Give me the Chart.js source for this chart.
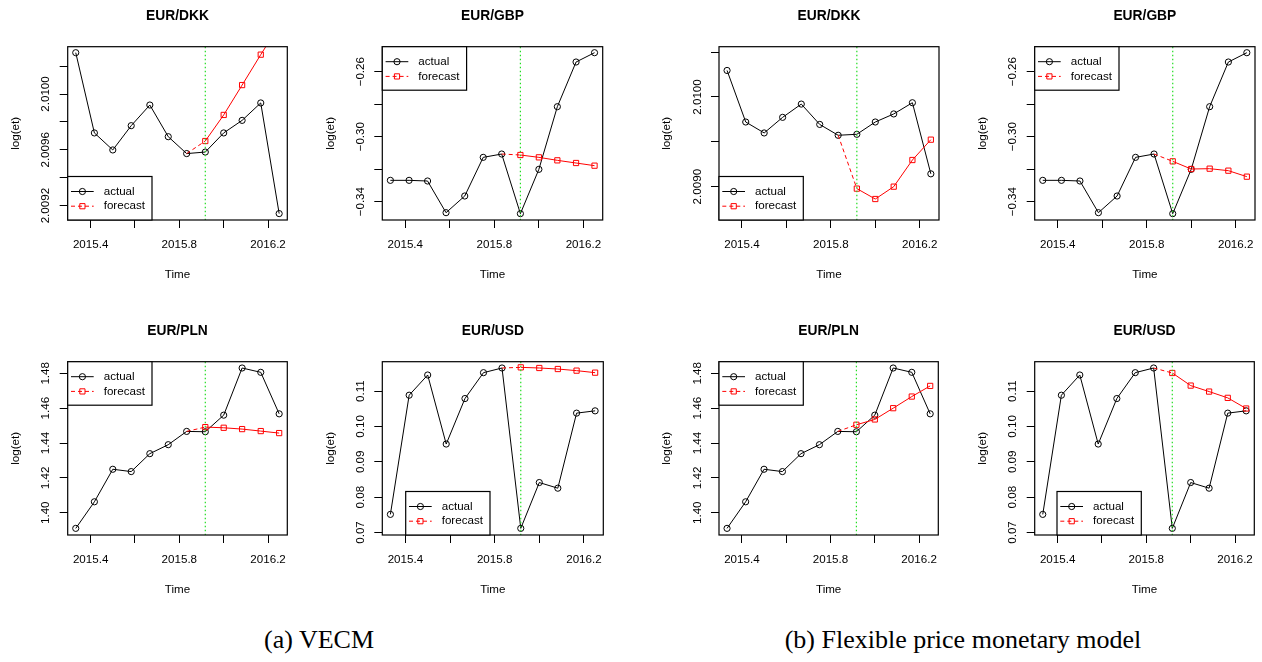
<!DOCTYPE html>
<html>
<head>
<meta charset="utf-8">
<script src="https://cdn.jsdelivr.net/npm/chart.js@4.4.0/dist/chart.umd.min.js"></script>
<style>
body { margin: 0; background: #fff; width: 1262px; height: 662px; position: relative; overflow: hidden; }
.panel { position: absolute; width: 310px; height: 300px; }
.caption { position: absolute; top: 625px; font-family: "Liberation Serif", "Times New Roman", serif; font-size: 26px; color: #000; transform: translateX(-50%); white-space: nowrap; }
</style>
</head>
<body>
<div class="panel" style="left:0;top:0"><canvas id="p1" width="310" height="300"></canvas></div>
<div class="panel" style="left:310px;top:0"><canvas id="p2" width="310" height="300"></canvas></div>
<div class="panel" style="left:640px;top:0"><canvas id="p3" width="310" height="300"></canvas></div>
<div class="panel" style="left:950px;top:0"><canvas id="p4" width="310" height="300"></canvas></div>
<div class="panel" style="left:0;top:315px"><canvas id="p5" width="310" height="300"></canvas></div>
<div class="panel" style="left:310px;top:315px"><canvas id="p6" width="310" height="300"></canvas></div>
<div class="panel" style="left:640px;top:315px"><canvas id="p7" width="310" height="300"></canvas></div>
<div class="panel" style="left:950px;top:315px"><canvas id="p8" width="310" height="300"></canvas></div>
<div class="caption" style="left:319px">(a) VECM</div>
<div class="caption" style="left:963px">(b) Flexible price monetary model</div>
<script>
// monthly time index, May 2015 .. Apr 2016
var months = [2015.333, 2015.417, 2015.5, 2015.583, 2015.667, 2015.75, 2015.833, 2015.917, 2016.0, 2016.083, 2016.167, 2016.25];
var forecastStart = 2015.917;

// observed log exchange rates
var actualDKK = [2.010296, 2.009721, 2.009599, 2.009773, 2.009921, 2.009694, 2.009573, 2.009584, 2.009721, 2.009811, 2.009936, 2.009143];
var actualGBP = [-0.32687, -0.32687, -0.32728, -0.34677, -0.33651, -0.31272, -0.31067, -0.34738, -0.32010, -0.28154, -0.25405, -0.24831];
var actualPLN = [1.39104, 1.40628, 1.42495, 1.42362, 1.43390, 1.43905, 1.44667, 1.44648, 1.45600, 1.48305, 1.48058, 1.45676];
var actualUSD = [0.07512, 0.10883, 0.11455, 0.09502, 0.10789, 0.11521, 0.11653, 0.07117, 0.08413, 0.08253, 0.10376, 0.10441];

// forecasts for Dec 2015 .. Apr 2016
var vecmDKK = [2.009663, 2.009850, 2.010064, 2.010282, 2.010490];
var vecmGBP = [-0.31128, -0.31272, -0.31456, -0.31620, -0.31784];
var vecmPLN = [1.44914, 1.44876, 1.44800, 1.44686, 1.44571];
var vecmUSD = [0.11671, 0.11653, 0.11624, 0.11578, 0.11521];
var fpmDKK = [2.008978, 2.008862, 2.009000, 2.009297, 2.009524];
var fpmGBP = [-0.31518, -0.31990, -0.31969, -0.32092, -0.32461];
var fpmPLN = [1.45048, 1.45353, 1.46000, 1.46667, 1.47277];
var fpmUSD = [0.11512, 0.11155, 0.10986, 0.10808, 0.10507];

// tick marks and labels
var xTicks = [2015.4, 2015.6, 2015.8, 2016.0, 2016.2];
var xTickLabels = ["2015.4", "", "2015.8", "", "2016.2"];
var dkkTicksA = [2.0092, 2.0094, 2.0096, 2.0098, 2.0100, 2.0102];
var dkkLabelsA = ["2.0092", "", "2.0096", "", "2.0100", ""];
var dkkTicksB = [2.0090, 2.0095, 2.0100, 2.0105];
var dkkLabelsB = ["2.0090", "", "2.0100", ""];
var gbpTicks = [-0.34, -0.32, -0.30, -0.28, -0.26];
var gbpLabels = ["\u22120.34", "", "\u22120.30", "", "\u22120.26"];
var plnTicks = [1.40, 1.42, 1.44, 1.46, 1.48];
var plnLabels = ["1.40", "1.42", "1.44", "1.46", "1.48"];
var usdTicks = [0.07, 0.08, 0.09, 0.10, 0.11];
var usdLabels = ["0.07", "0.08", "0.09", "0.10", "0.11"];

var FONT = "'Liberation Sans', Arial, sans-serif";

var rFrame = {
    id: "rFrame",
    afterDraw: function (chart) {
        var p = chart.options.plugins.rFrame;
        var ctx = chart.ctx;
        var a = chart.chartArea;
        var xs = chart.scales.x, ys = chart.scales.y;
        ctx.save();
        // forecast origin line
        var vx = xs.getPixelForValue(forecastStart);
        ctx.strokeStyle = "#22dd22";
        ctx.lineWidth = 1.2;
        ctx.setLineDash([1.5, 2.5]);
        ctx.beginPath();
        ctx.moveTo(vx, a.top);
        ctx.lineTo(vx, a.bottom);
        ctx.stroke();
        ctx.setLineDash([]);
        // box
        ctx.lineWidth = 1.2;
        ctx.strokeStyle = "#000";
        ctx.strokeRect(a.left, a.top, a.right - a.left, a.bottom - a.top);
        ctx.lineWidth = 1;
        // title
        var cx = (a.left + a.right) / 2;
        ctx.fillStyle = "#000";
        ctx.textAlign = "center";
        ctx.textBaseline = "middle";
        ctx.font = "bold 13.8px " + FONT;
        ctx.fillText(p.title, cx, a.top - 31);
        ctx.font = "11.6px " + FONT;
        // x labels
        xTicks.forEach(function (v, i) {
            if (xTickLabels[i]) ctx.fillText(xTickLabels[i], xs.getPixelForValue(v), a.bottom + 24.3);
        });
        ctx.fillText("Time", cx, a.bottom + 54.3);
        // y labels, rotated
        p.yTicks.forEach(function (v, i) {
            if (!p.yLabels[i]) return;
            ctx.save();
            ctx.translate(a.left - 21.5, ys.getPixelForValue(v));
            ctx.rotate(-Math.PI / 2);
            ctx.fillText(p.yLabels[i], 0, 0);
            ctx.restore();
        });
        ctx.save();
        ctx.translate(a.left - 52, (a.top + a.bottom) / 2);
        ctx.rotate(-Math.PI / 2);
        ctx.fillText("log(et)", 0, 0);
        ctx.restore();
        // legend
        var w = 84.3, h = 43.5;
        var lx = a.left + p.legendDx;
        var ly = p.legendTop ? a.top : a.bottom - h;
        ctx.fillStyle = "#fff";
        ctx.fillRect(lx, ly, w, h);
        ctx.strokeStyle = "#000";
        ctx.lineWidth = 1.2;
        ctx.strokeRect(lx, ly, w, h);
        ctx.lineWidth = 1;
        var rows = [
            { text: "actual", color: "#000", dash: [], y: ly + 15 },
            { text: "forecast", color: "#f00", dash: [4, 3], y: ly + 29.7 },
        ];
        rows.forEach(function (r, i) {
            ctx.strokeStyle = r.color;
            ctx.setLineDash(r.dash);
            ctx.beginPath();
            ctx.moveTo(lx + 3.3, r.y);
            ctx.lineTo(lx + 26, r.y);
            ctx.stroke();
            ctx.setLineDash([]);
            ctx.beginPath();
            if (i == 0) ctx.arc(lx + 14.7, r.y, 3.1, 0, Math.PI * 2);
            else ctx.rect(lx + 14.7 - 2.6, r.y - 2.6, 5.2, 5.2);
            ctx.stroke();
            ctx.fillStyle = "#000";
            ctx.textAlign = "left";
            ctx.fillText(r.text, lx + 36, r.y);
        });
        ctx.restore();
    },
};

function panel(id, title, actual, forecast, yTicks, yLabels, yMin, yMax, areaLeft, areaRight, legendTop, legendDx) {
    var tickList = function (vals) {
        return function (s) {
            s.ticks = vals.map(function (v) { return { value: v }; });
        };
    };
    var forecastData = [{ x: months[6], y: actual[6] }].concat(forecast.map(function (v, i) {
        return { x: months[7 + i], y: v };
    }));
    return new Chart(document.getElementById(id).getContext("2d"), {
        type: "line",
        data: {
            datasets: [
                {
                    label: "forecast",
                    data: forecastData,
                    borderColor: "#ff0000",
                    borderWidth: 1,
                    pointStyle: "rect",
                    pointRadius: function (c) { return c.dataIndex == 0 ? 0 : 3.7; },
                    pointBorderColor: "#ff0000",
                    pointBackgroundColor: "rgba(0,0,0,0)",
                    pointBorderWidth: 1,
                    segment: {
                        borderDash: function (c) { return c.p0DataIndex == 0 ? [4, 3] : undefined; },
                    },
                },
                {
                    label: "actual",
                    data: months.map(function (m, i) { return { x: m, y: actual[i] }; }),
                    borderColor: "#000",
                    borderWidth: 1,
                    pointStyle: "circle",
                    pointRadius: 3.1,
                    pointBorderColor: "#000",
                    pointBackgroundColor: "rgba(0,0,0,0)",
                    pointBorderWidth: 1,
                },
            ],
        },
        options: {
            responsive: false,
            animation: false,
            layout: {
                autoPadding: false,
                padding: { top: 46.7, left: 0, right: 310 - areaRight, bottom: 70 },
            },
            plugins: {
                legend: false,
                tooltip: false,
                rFrame: { title: title, yTicks: yTicks, yLabels: yLabels, legendTop: legendTop, legendDx: legendDx },
            },
            scales: {
                x: {
                    type: "linear",
                    min: 2015.2967,
                    max: 2016.2867,
                    afterBuildTicks: tickList(xTicks),
                    afterFit: function (s) { s.height = 10; },
                    ticks: { display: false },
                    grid: { drawOnChartArea: false, tickLength: 8, color: "#000" },
                    border: { display: false },
                },
                y: {
                    type: "linear",
                    min: yMin,
                    max: yMax,
                    afterBuildTicks: tickList(yTicks),
                    afterFit: function (s) { s.width = areaLeft; },
                    ticks: { display: false },
                    grid: { drawOnChartArea: false, tickLength: 8, color: "#000" },
                    border: { display: false },
                },
            },
        },
        plugins: [rFrame],
    });
}

panel("p1", "EUR/DKK", actualDKK, vecmDKK, dkkTicksA, dkkLabelsA, 2.009097, 2.010339, 67.7, 287.3, false, 0);
panel("p2", "EUR/GBP", actualGBP, vecmGBP, gbpTicks, gbpLabels, -0.35128, -0.24462, 72.3, 292.7, true, 0);
panel("p3", "EUR/DKK", actualDKK, fpmDKK, dkkTicksB, dkkLabelsB, 2.008628, 2.010561, 79, 299, false, 0);
panel("p4", "EUR/GBP", actualGBP, fpmGBP, gbpTicks, gbpLabels, -0.35128, -0.24462, 84.7, 305, true, 0);
panel("p5", "EUR/PLN", actualPLN, vecmPLN, plnTicks, plnLabels, 1.38723, 1.48667, 67.7, 287.3, true, 0);
panel("p6", "EUR/USD", actualUSD, vecmUSD, usdTicks, usdLabels, 0.06929, 0.11831, 72.3, 293.3, false, 23.4);
panel("p7", "EUR/PLN", actualPLN, fpmPLN, plnTicks, plnLabels, 1.38723, 1.48667, 79, 298.3, true, 0);
panel("p8", "EUR/USD", actualUSD, fpmUSD, usdTicks, usdLabels, 0.06929, 0.11831, 84.7, 304.3, false, 22.3);
</script>
</body>
</html>
